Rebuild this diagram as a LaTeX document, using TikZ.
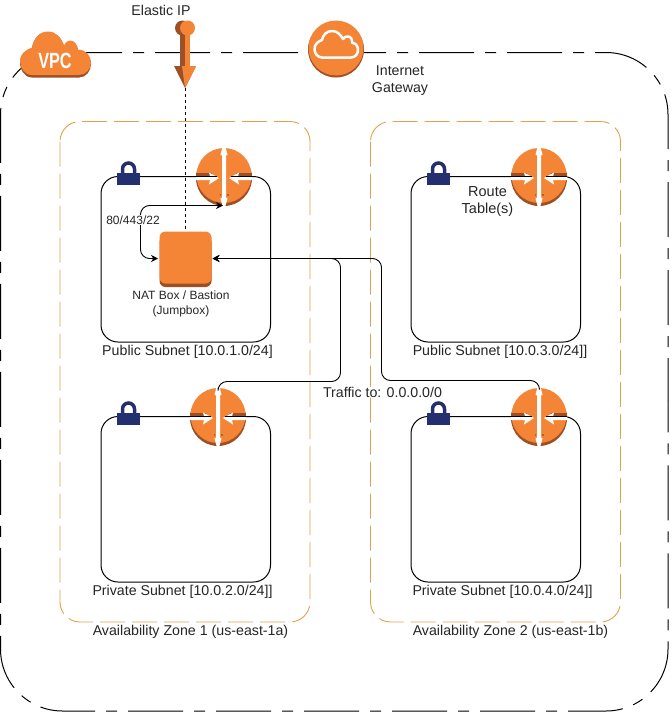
\documentclass[tikz,border=0pt]{standalone}
\usepackage{fontspec}
\setmainfont{Liberation Sans}
\usetikzlibrary{arrows.meta}
\definecolor{awso}{HTML}{F58536}
\definecolor{awsd}{HTML}{9D5025}
\definecolor{awsn}{HTML}{232F6E}
\definecolor{zoneo}{HTML}{E5A04A}
\tikzset{
 lbl/.style={font=\fontsize{14.2}{16.5}\selectfont,align=center,inner sep=0pt,text=black!85},
 lblsmall/.style={font=\fontsize{12}{15.5}\selectfont,align=center,inner sep=0pt,text=black!85},
 subnet/.style={draw=black,line width=1pt,rounded corners=17pt},
 zone/.style={draw=zoneo,line width=0.9pt,rounded corners=20pt,dash pattern=on 25pt off 7pt},
 vpcb/.style={draw=black,line width=1pt,rounded corners=62pt,dash pattern=on 55pt off 11pt on 11pt off 11pt},
 conn/.style={draw=black,line width=0.9pt,rounded corners=9pt,-{Stealth[length=7pt,width=7pt]}},
}
\newcommand{\lockicon}[3]{% name x y
 \coordinate (#1) at (#2,#3);
 \draw[awsn,line width=3.5pt] (#2-6,#3-2) -- (#2-6,#3-7.5) arc[start angle=180,end angle=360,radius=6] -- (#2+6,#3-2);
 \fill[awsn] (#2-11.5,#3-4) rectangle (#2+11.5,#3+8.5);
}
\newcommand{\routericon}[3]{% name cx cy
 \coordinate (#1) at (#2,#3);
 \fill[awsd] (#2,#3+1.5) circle (28);
 \fill[awso] (#2,#3-1) circle (27.5);
 \fill[awsd] (#2-28,#3-3.5) rectangle (#2-12,#3);
 \fill[awsd] (#2+12,#3-3.5) rectangle (#2+28,#3);
 % vertical gap with outward tips
 \fill[white] (#2-1,#3-31) -- (#2+1,#3-31) -- (#2+3.5,#3-22) -- (#2+2,#3-21) -- (#2+2,#3+21) -- (#2+3.5,#3+22) -- (#2+1,#3+31) -- (#2-1,#3+31) -- (#2-3.5,#3+22) -- (#2-2,#3+21) -- (#2-2,#3-21) -- (#2-3.5,#3-22) -- cycle;
 % inward arrows
 \fill[white] (#2-28,#3) -- (#2-14,#3) -- (#2-15,#3-4) -- (#2-5,#3+1.5) -- (#2-15,#3+8) -- (#2-14,#3+3.5) -- (#2-28,#3+3.5) -- cycle;
 \fill[white] (#2+28,#3) -- (#2+14,#3) -- (#2+15,#3-4) -- (#2+5,#3+1.5) -- (#2+15,#3+8) -- (#2+14,#3+3.5) -- (#2+28,#3+3.5) -- cycle;
 \fill[awsd!70!awso] (#2-4.5,#3+17.5) rectangle (#2-3,#3+19);
 \fill[awsd!70!awso] (#2+3,#3+17.5) rectangle (#2+4.5,#3+19);
 \draw[black,line width=1pt] (#2-28,#3) -- (#2-7,#3);
 \draw[black,line width=1pt] (#2+7,#3) -- (#2+28,#3);
}
\begin{document}
\begin{tikzpicture}[x=1pt,y=-1pt]
\useasboundingbox (0,0) rectangle (672,715);
\fill[white] (0,0) rectangle (672,715);
% VPC border
\draw[vpcb] (67,52.5) -- (668,52.5) -- (668,400);
\draw[vpcb] (128,711) -- (668,711) -- (668,400);
\draw[vpcb,dash phase=55pt] (128,711) -- (0.5,711) -- (0.5,52.5) -- (67,52.5);
% zones
\draw[zone] (60,121.5) rectangle (310,622);
\draw[zone] (370.5,121.5) rectangle (620.5,622);
% subnets
\draw[subnet] (101,176.5) rectangle (270.5,342);
\draw[subnet] (411,176.5) rectangle (580.5,342);
\draw[subnet] (101,416.5) rectangle (270.5,582);
\draw[subnet] (411,416.5) rectangle (580.5,582);
% routers
\routericon{r1}{224}{176.5}
\routericon{r2}{539}{176.5}
\routericon{r3}{218}{416.5}
\routericon{r4}{539}{416.5}
% locks
\lockicon{l1}{128.5}{176.5}
\lockicon{l2}{438.5}{176.5}
\lockicon{l3}{128.5}{416.5}
\lockicon{l4}{438.5}{416.5}
% elastic IP anchor and dotted line
\coordinate (eipTip) at (185.5,88);
\coordinate (natTop) at (185.5,232);
\draw[black,line width=0.9pt,dash pattern=on 3pt off 3pt] (eipTip) -- (natTop);
% NAT box
\fill[awsd,rounded corners=6pt] (159.5,236) rectangle (211.5,287);
\fill[awso,rounded corners=6pt] (159.5,231.5) rectangle (211.5,283.5);
% connectors
\coordinate (natL) at (158,258.5);
\coordinate (natR) at (212.5,258.5);
\coordinate (r1b) at (223,205.5);
\coordinate (r3t) at (218,388);
\coordinate (r4t) at (539.5,388);
\draw[draw=black,line width=0.9pt,rounded corners=9pt,{Stealth[length=7pt,width=7pt]}-{Stealth[length=7pt,width=7pt]}] (r1b) -- (140.5,205.5) -- (140.5,258.5) -- (natL);
\draw[conn] (r3t) -- (218,381.5) -- (340.5,381.5) -- (340.5,258.5) -- (natR);
\draw[conn] (r4t) -- (539.5,380.5) -- (381.5,380.5) -- (381.5,258.5) -- (natR);
% labels
\node[lblsmall,fill=white,inner xsep=1pt,inner ysep=1pt] (t8044) at (133,220) {80/443/22};
\node[lblsmall] (tnat) at (181,304) {NAT Box / Bastion\\(Jumpbox)};
\node[lbl,font=\fontsize{14.5}{16.5}\selectfont] (trt) at (487.5,201.5) {Route\\Table(s)};
\node[lbl] (tp1) at (187.5,352) {Public Subnet [10.0.1.0/24]};
\node[lbl] (tp2) at (500,352) {Public Subnet [10.0.3.0/24]]};
\node[lbl] (tp3) at (182.5,592) {Private Subnet [10.0.2.0/24]]};
\node[lbl] (tp4) at (502.5,592) {Private Subnet [10.0.4.0/24]]};
\node[lbl,fill=white] (ttr) at (382.5,392) {Traffic to: 0.0.0.0/0};
\node[lbl] (taz1) at (190.5,632) {Availability Zone 1 (us-east-1a)};
\node[lbl] (taz2) at (510.5,632) {Availability Zone 2 (us-east-1b)};
\node[lbl] (tigw) at (400,80.5) {Internet\\Gateway};
\node[lbl] (teip) at (161,10) {Elastic IP};
% VPC cloud
\fill[awsd] (20,62) to[out=90,in=200] (32,48) to[out=80,in=180] (48,32) to[out=0,in=110] (64,46) to[out=60,in=180] (70,41) to[out=0,in=100] (78,50) to[out=0,in=90] (91,64) to[out=270,in=0] (79,77.5) -- (32,77.5) to[out=180,in=270] cycle;
\fill[awso] (20,61) to[out=90,in=200] (32,47.5) to[out=80,in=180] (48,31.5) to[out=0,in=110] (64,45.5) to[out=60,in=180] (70,40.5) to[out=0,in=100] (78,49.5) to[out=0,in=90] (91,62.5) to[out=270,in=0] (79,75) -- (32,75) to[out=180,in=270] cycle;
\node[text=white,font=\fontsize{22}{22}\selectfont\bfseries,inner sep=0pt,xscale=0.74] (tvpc) at (55,61) {VPC};
% IGW
\fill[awsd] (336,49.5) circle (28);
\fill[awso] (336,48) circle (27.5);
\draw[white,line width=2.5pt,line join=round] (322,57.5) to[out=180,in=270] (314.5,49) to[out=90,in=200] (322,40) to[out=80,in=180] (332,31) to[out=0,in=120] (343,39) to[out=60,in=180] (348,36.5) to[out=0,in=90] (352.5,43) to[out=0,in=90] (358,50) to[out=270,in=0] (351,57.5) -- cycle;
% Elastic IP pin
\fill[awsd] (182.5,28) circle (7.5);
\fill[awsd] (180,30) rectangle (186,68);
\fill[awso] (187.5,28) circle (7.5);
\fill[awso] (185,30) rectangle (190,68);
\fill[awsd] (174,66) -- (196,66) -- (185,88) -- cycle;
\fill[awso] (182,66) -- (196,66) -- (185,88) -- cycle;
\end{tikzpicture}
\end{document}
